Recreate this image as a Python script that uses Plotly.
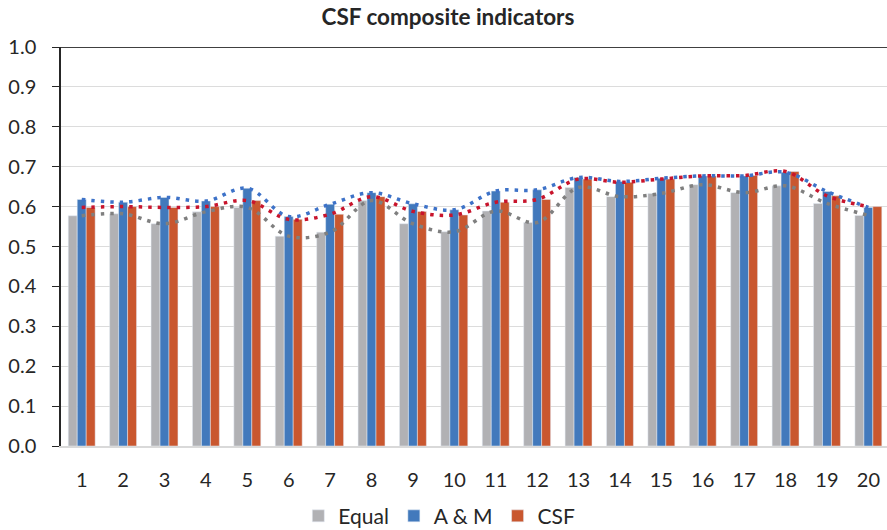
import plotly.graph_objects as go

# Indicator values
categories = list(range(1, 21))
equal = [0.577, 0.582, 0.557, 0.587, 0.598, 0.526, 0.536, 0.615, 0.557, 0.537,
         0.589, 0.560, 0.648, 0.625, 0.633, 0.655, 0.635, 0.652, 0.608, 0.578]
a_and_m = [0.618, 0.611, 0.623, 0.614, 0.646, 0.575, 0.606, 0.635, 0.607, 0.592,
           0.639, 0.642, 0.673, 0.663, 0.671, 0.677, 0.677, 0.686, 0.638, 0.598]
csf = [0.598, 0.600, 0.598, 0.600, 0.615, 0.568, 0.581, 0.625, 0.588, 0.579,
       0.611, 0.618, 0.669, 0.661, 0.669, 0.677, 0.678, 0.688, 0.627, 0.600]
y_ticks = [round(0.1 * i, 1) for i in range(11)]

font_family = "Lato, 'Open Sans', sans-serif"
dot_style = "3.5px,6px"

fig = go.Figure()

# Bars
fig.add_trace(go.Bar(x=categories, y=equal, name="Equal", marker_color="#B1B1B4"))
fig.add_trace(go.Bar(x=categories, y=a_and_m, name="A & M", marker_color="#4279BC"))
fig.add_trace(go.Bar(x=categories, y=csf, name="CSF", marker_color="#C9572F"))

# Smoothed dotted lines through the same values
fig.add_trace(go.Scatter(x=categories, y=equal, mode="lines", showlegend=False,
                         line=dict(color="#7F7F7F", dash=dot_style, width=3.5, shape="spline")))
fig.add_trace(go.Scatter(x=categories, y=a_and_m, mode="lines", showlegend=False,
                         line=dict(color="#3D72C8", dash=dot_style, width=3.5, shape="spline")))
fig.add_trace(go.Scatter(x=categories, y=csf, mode="lines", showlegend=False,
                         line=dict(color="#C8142C", dash=dot_style, width=3.5, shape="spline")))

fig.update_layout(
    width=887, height=530,
    margin=dict(l=61, r=0, t=47, b=84, autoexpand=False),
    plot_bgcolor="white", paper_bgcolor="white",
    barmode="group", bargap=0.35, bargroupgap=0,
    font=dict(family=font_family, size=20, color="#262626"),
    title=dict(text="<b>CSF composite indicators</b>", x=0.505, xanchor="center",
               y=0.967, yanchor="middle", font=dict(size=22.5, color="#262626")),
    legend=dict(orientation="h", x=0.458, xanchor="center",
                yref="container", y=0.026, yanchor="middle",
                font=dict(size=21), itemwidth=30, traceorder="normal"),
    xaxis=dict(range=[0.5, 20.45], tickmode="array", tickvals=categories,
               ticktext=[str(c) for c in categories], showgrid=False, automargin=False,
               showline=True, linecolor="#D9D9D9", linewidth=1.5, ticks="", ticklen=0,
               ticklabelstandoff=15),
    yaxis=dict(range=[0, 1.0], tickmode="array", tickvals=y_ticks,
               ticktext=["%.1f" % v for v in y_ticks], automargin=False,
               showgrid=True, gridcolor="#DCDCDC", gridwidth=1.2,
               showline=True, linecolor="#262626", linewidth=1.5,
               ticks="outside", ticklen=7, tickcolor="#262626", zeroline=False,
               ticklabelstandoff=12),
)

# Dark frame line along the top of the plot area
fig.add_shape(type="line", xref="paper", yref="y", x0=0, x1=1, y0=1.0, y1=1.0,
              line=dict(color="#404040", width=2))

# drop the browser's default page margin so the figure sits at the window corner
fig.write_html("out.html", config={"displayModeBar": False},
               post_script="document.body.style.margin='0';")
